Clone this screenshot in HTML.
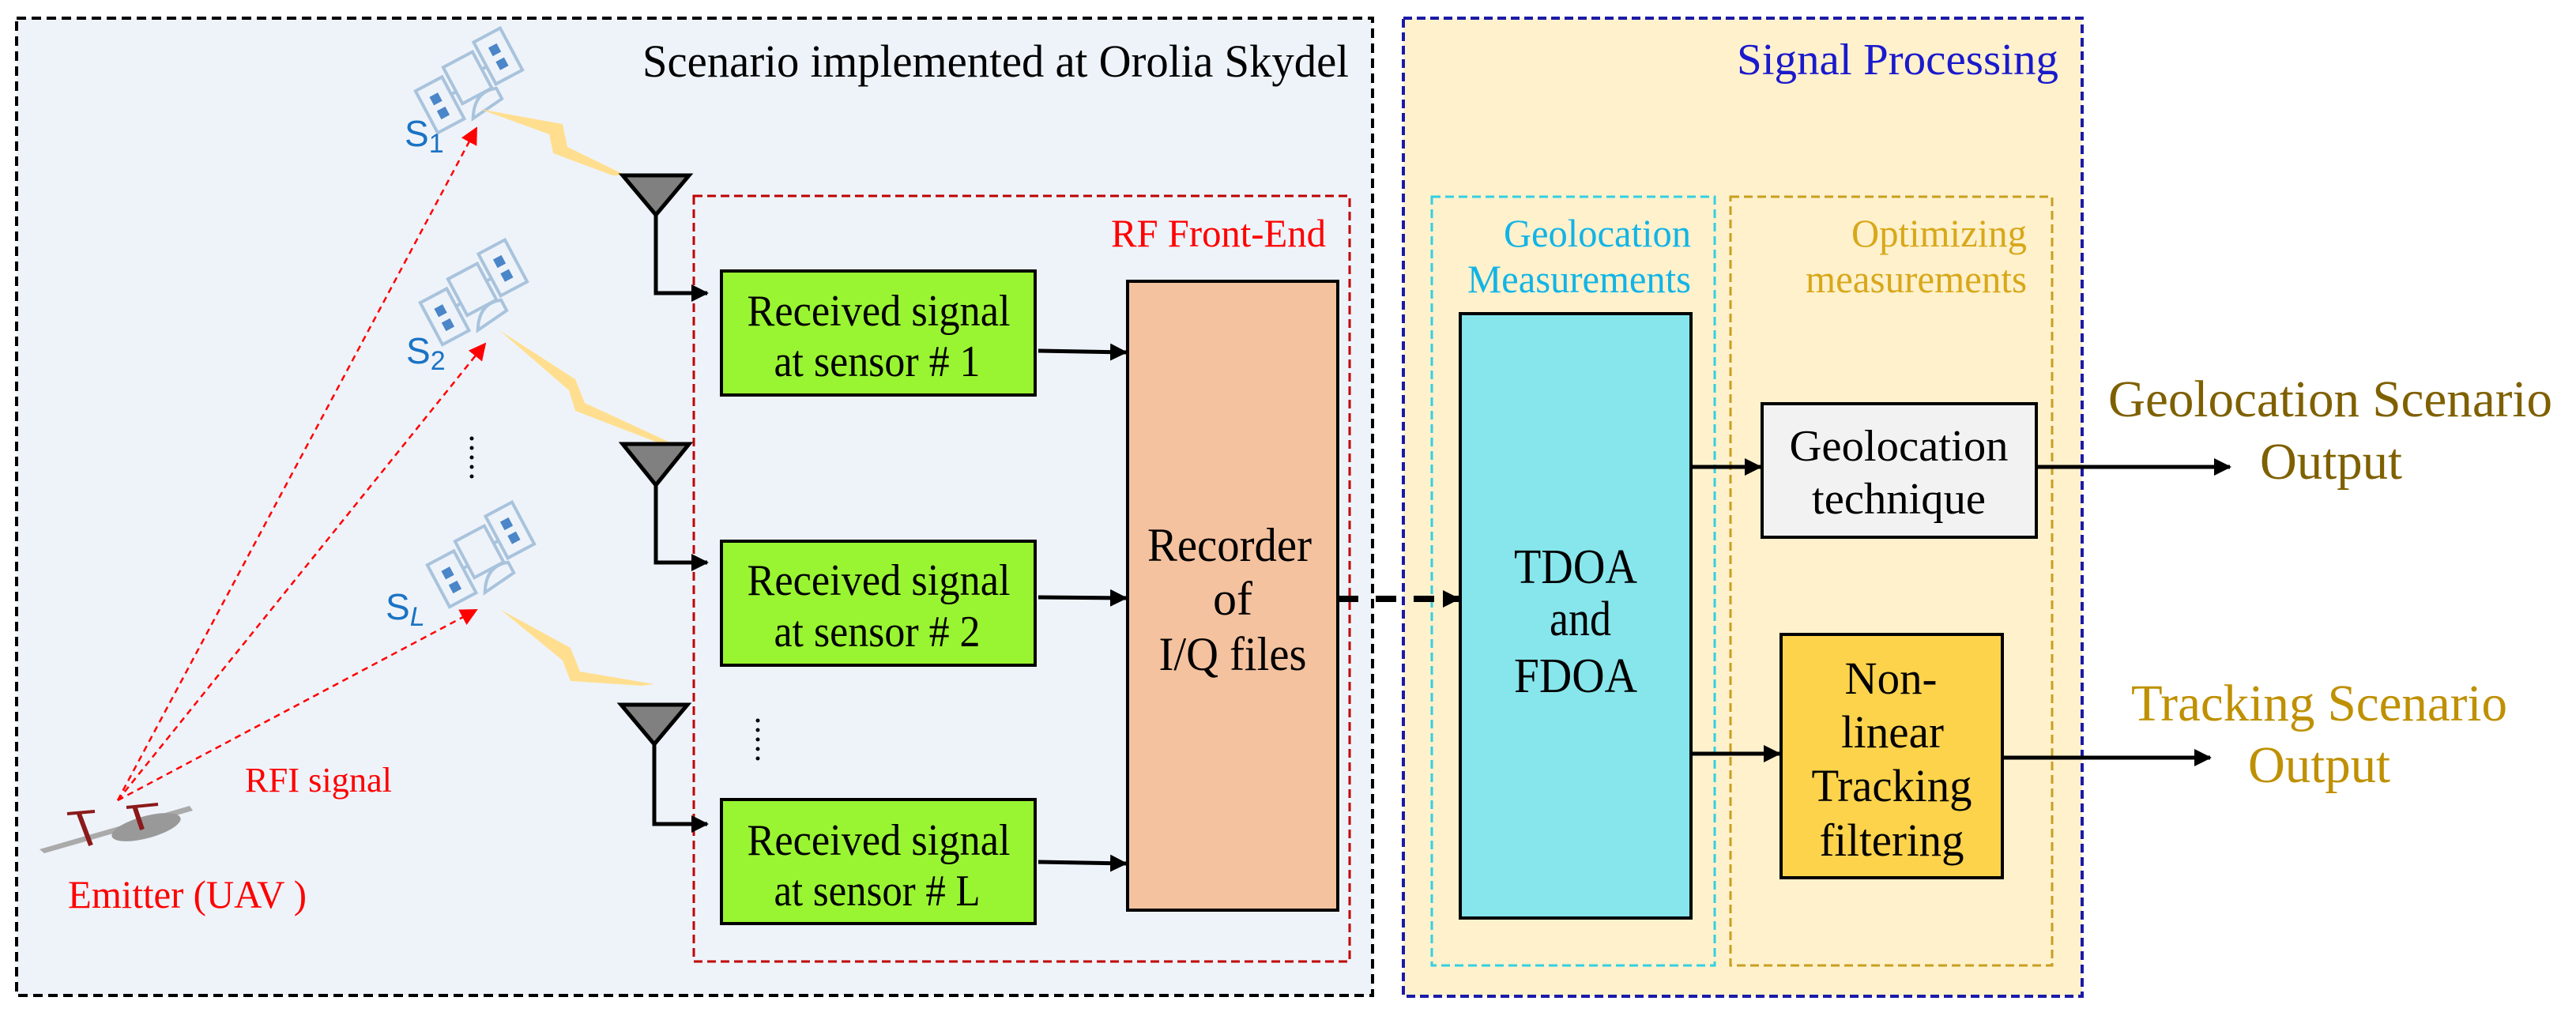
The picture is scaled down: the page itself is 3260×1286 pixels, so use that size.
<!DOCTYPE html>
<html><head><meta charset="utf-8"><style>
html,body{margin:0;padding:0;background:#fff;}
svg{display:block;}
</style></head><body>
<svg width="3260" height="1286" viewBox="0 0 3260 1286" xmlns="http://www.w3.org/2000/svg">
<defs>
<marker id="abk" markerWidth="22" markerHeight="22" refX="20" refY="11" orient="auto" markerUnits="userSpaceOnUse"><path d="M0,0 L22,11 L0,22z" fill="#000"/></marker>
<marker id="ar" markerWidth="22" markerHeight="22" refX="20" refY="11" orient="auto" markerUnits="userSpaceOnUse"><path d="M0,0 L22,11 L0,22z" fill="#f00"/></marker>
<g id="sat">
  <g fill="none" stroke="#a9c3dc" stroke-width="4">
    <rect x="-70" y="-20" width="38" height="60"/>
    <rect x="-25" y="-30" width="42" height="52"/>
    <rect x="24" y="-40" width="38" height="60"/>
    <line x1="-32" y1="5" x2="-25" y2="5"/><line x1="17" y1="-5" x2="24" y2="-5"/>
    <path d="M-22,45 Q-5,15 22,25 L22,40 Z"/>
  </g>
  <rect x="-58" y="-5" width="12" height="12" fill="#4a86c8"/><rect x="-58" y="15" width="12" height="12" fill="#4a86c8"/>
  <rect x="37" y="-25" width="12" height="12" fill="#4a86c8"/><rect x="37" y="-5" width="12" height="12" fill="#4a86c8"/>
</g>
</defs>
<rect width="3260" height="1286" fill="#fff"/>
<rect x="21" y="23" width="1716" height="1237" fill="#eef3fa" stroke="#000" stroke-width="4" stroke-dasharray="12,7"/>
<text font-family="Liberation Serif, serif" x="1707" y="97" font-size="58" text-anchor="end" textLength="894" lengthAdjust="spacingAndGlyphs">Scenario implemented at Orolia Skydel</text>
<rect x="878" y="248" width="830" height="969" fill="none" stroke="#c00000" stroke-width="3" stroke-dasharray="11,6"/>
<text font-family="Liberation Serif, serif" x="1678" y="312" font-size="50" fill="#f00" text-anchor="end" textLength="272" lengthAdjust="spacingAndGlyphs">RF Front-End</text>
<use href="#sat" transform="translate(597,100) rotate(-28)"/>
<use href="#sat" transform="translate(603,368) rotate(-28)"/>
<use href="#sat" transform="translate(612,700) rotate(-28)"/>
<text font-family="Liberation Sans, sans-serif" fill="#1a73c4" x="512" y="185" font-size="46">S<tspan font-size="34" dy="8">1</tspan></text>
<text font-family="Liberation Sans, sans-serif" fill="#1a73c4" x="514" y="460" font-size="46">S<tspan font-size="34" dy="8">2</tspan></text>
<text font-family="Liberation Sans, sans-serif" fill="#1a73c4" x="488" y="784" font-size="46">S<tspan font-size="34" dy="8" font-style="italic">L</tspan></text>
<g fill="#000"><circle cx="597" cy="555" r="2.5"/><circle cx="597" cy="567" r="2.5"/><circle cx="597" cy="579" r="2.5"/><circle cx="597" cy="591" r="2.5"/><circle cx="597" cy="603" r="2.5"/></g>
<g fill="#ffdf8f">
<polygon points="607,138 712,157 718,186 792,222 775,222 700,194 695,170"/>
<polygon points="632,418 728,480 740,510 848,560 832,560 728,520 720,494"/>
<polygon points="634,772 722,820 734,850 828,866 812,868 722,862 712,836"/>
</g>
<g stroke="#000" stroke-width="5" fill="#808080">
<path d="M788,222 L872,222 L830,272 Z"/>
<path d="M788,562 L872,562 L830,614 Z"/>
<path d="M786,892 L870,892 L828,942 Z"/>
</g>
<g stroke="#000" stroke-width="5" fill="none">
<polyline points="830,272 830,371 895,371" marker-end="url(#abk)"/>
<polyline points="830,614 830,712 895,712" marker-end="url(#abk)"/>
<polyline points="828,942 828,1043 895,1043" marker-end="url(#abk)"/>
</g>
<g stroke="#f00" stroke-width="2.5" stroke-dasharray="8,6" fill="none">
<line x1="149" y1="1013" x2="603" y2="162" marker-end="url(#ar)"/>
<line x1="149" y1="1013" x2="614" y2="435" marker-end="url(#ar)"/>
<line x1="149" y1="1013" x2="603" y2="772" marker-end="url(#ar)"/>
</g>
<g>
<path d="M50,1075 L240,1020 L244,1026 L56,1080 Z" fill="#aaa"/>
<ellipse cx="185" cy="1047" rx="45" ry="14" fill="#999" transform="rotate(-15 185 1047)"/>
<path d="M100,1030 L115,1070 M170,1020 L180,1050" stroke="#8b1a1a" stroke-width="6"/>
<path d="M85,1030 L120,1027 M160,1022 L200,1018" stroke="#8b1a1a" stroke-width="4"/>
</g>
<text font-family="Liberation Serif, serif" x="310" y="1002" font-size="44" fill="#f00" textLength="186" lengthAdjust="spacingAndGlyphs">RFI signal</text>
<text font-family="Liberation Serif, serif" x="86" y="1149" font-size="50" fill="#f00" textLength="302" lengthAdjust="spacingAndGlyphs">Emitter (UAV )</text>
<g fill="#99f531" stroke="#000" stroke-width="4">
<rect x="913" y="343" width="397" height="157"/>
<rect x="913" y="685" width="397" height="157"/>
<rect x="913" y="1012" width="397" height="157"/>
</g>
<text font-family="Liberation Serif, serif" font-size="56" text-anchor="middle" x="1112" y="412" textLength="333" lengthAdjust="spacingAndGlyphs">Received signal</text>
<text font-family="Liberation Serif, serif" font-size="56" text-anchor="middle" x="1110" y="476" textLength="261" lengthAdjust="spacingAndGlyphs">at sensor # 1</text>
<text font-family="Liberation Serif, serif" font-size="56" text-anchor="middle" x="1112" y="753" textLength="333" lengthAdjust="spacingAndGlyphs">Received signal</text>
<text font-family="Liberation Serif, serif" font-size="56" text-anchor="middle" x="1110" y="818" textLength="261" lengthAdjust="spacingAndGlyphs">at sensor # 2</text>
<text font-family="Liberation Serif, serif" font-size="56" text-anchor="middle" x="1112" y="1082" textLength="333" lengthAdjust="spacingAndGlyphs">Received signal</text>
<text font-family="Liberation Serif, serif" font-size="56" text-anchor="middle" x="1110" y="1146" textLength="261" lengthAdjust="spacingAndGlyphs">at sensor # L</text>
<g fill="#000"><circle cx="959" cy="912" r="2.5"/><circle cx="959" cy="924" r="2.5"/><circle cx="959" cy="936" r="2.5"/><circle cx="959" cy="948" r="2.5"/><circle cx="959" cy="960" r="2.5"/></g>
<g stroke="#000" stroke-width="5">
<line x1="1314" y1="444" x2="1425" y2="446" marker-end="url(#abk)"/>
<line x1="1314" y1="756" x2="1425" y2="757" marker-end="url(#abk)"/>
<line x1="1314" y1="1091" x2="1425" y2="1093" marker-end="url(#abk)"/>
</g>
<rect x="1427" y="356" width="266" height="796" fill="#f4c29f" stroke="#000" stroke-width="4"/>
<text font-family="Liberation Serif, serif" font-size="60" text-anchor="middle" x="1556" y="710" textLength="208" lengthAdjust="spacingAndGlyphs">Recorder</text>
<text font-family="Liberation Serif, serif" font-size="60" text-anchor="middle" x="1560" y="778">of</text>
<text font-family="Liberation Serif, serif" font-size="60" text-anchor="middle" x="1560" y="848" textLength="187" lengthAdjust="spacingAndGlyphs">I/Q files</text>
<rect x="1776" y="23" width="859" height="1238" fill="#fff1cc" stroke="#1a1aa8" stroke-width="4" stroke-dasharray="11,6"/>
<text font-family="Liberation Serif, serif" x="2605" y="94" font-size="56" fill="#1a1acc" text-anchor="end" textLength="407" lengthAdjust="spacingAndGlyphs">Signal Processing</text>
<rect x="1812" y="249" width="358" height="973" fill="none" stroke="#33d0e0" stroke-width="3" stroke-dasharray="11,6"/>
<rect x="2190" y="249" width="407" height="973" fill="none" stroke="#c8a020" stroke-width="3" stroke-dasharray="11,6"/>
<text font-family="Liberation Serif, serif" font-size="50" text-anchor="end" x="2140" y="312" fill="#12b4e6" textLength="237" lengthAdjust="spacingAndGlyphs">Geolocation</text>
<text font-family="Liberation Serif, serif" font-size="50" text-anchor="end" x="2140" y="370" fill="#12b4e6" textLength="283" lengthAdjust="spacingAndGlyphs">Measurements</text>
<text font-family="Liberation Serif, serif" font-size="50" text-anchor="end" x="2565" y="312" fill="#d8a81a" textLength="222" lengthAdjust="spacingAndGlyphs">Optimizing</text>
<text font-family="Liberation Serif, serif" font-size="50" text-anchor="end" x="2565" y="370" fill="#d8a81a" textLength="280" lengthAdjust="spacingAndGlyphs">measurements</text>
<line x1="1693" y1="758" x2="1846" y2="758" stroke="#000" stroke-width="8" stroke-dasharray="26,22" marker-end="url(#abk)"/>
<rect x="1848" y="397" width="292" height="765" fill="#86e6ec" stroke="#000" stroke-width="4"/>
<text font-family="Liberation Serif, serif" font-size="62" text-anchor="middle" x="1994" y="738" textLength="156" lengthAdjust="spacingAndGlyphs">TDOA</text>
<text font-family="Liberation Serif, serif" font-size="62" text-anchor="middle" x="2000" y="804" textLength="78" lengthAdjust="spacingAndGlyphs">and</text>
<text font-family="Liberation Serif, serif" font-size="62" text-anchor="middle" x="1994" y="876" textLength="156" lengthAdjust="spacingAndGlyphs">FDOA</text>
<rect x="2230" y="511" width="347" height="169" fill="#f2f2f2" stroke="#000" stroke-width="4"/>
<text font-family="Liberation Serif, serif" font-size="56" text-anchor="middle" x="2403" y="583" textLength="277" lengthAdjust="spacingAndGlyphs">Geolocation</text>
<text font-family="Liberation Serif, serif" font-size="56" text-anchor="middle" x="2403" y="650" textLength="220" lengthAdjust="spacingAndGlyphs">technique</text>
<rect x="2254" y="803" width="280" height="308" fill="#fdd34c" stroke="#000" stroke-width="4"/>
<text font-family="Liberation Serif, serif" font-size="58" text-anchor="middle" x="2393" y="878" textLength="117" lengthAdjust="spacingAndGlyphs">Non-</text>
<text font-family="Liberation Serif, serif" font-size="58" text-anchor="middle" x="2395" y="946" textLength="130" lengthAdjust="spacingAndGlyphs">linear</text>
<text font-family="Liberation Serif, serif" font-size="58" text-anchor="middle" x="2394" y="1014" textLength="203" lengthAdjust="spacingAndGlyphs">Tracking</text>
<text font-family="Liberation Serif, serif" font-size="58" text-anchor="middle" x="2394" y="1083" textLength="183" lengthAdjust="spacingAndGlyphs">filtering</text>
<g stroke="#000" stroke-width="5">
<line x1="2140" y1="591" x2="2228" y2="591" marker-end="url(#abk)"/>
<line x1="2140" y1="954" x2="2252" y2="954" marker-end="url(#abk)"/>
<line x1="2577" y1="591" x2="2822" y2="591" marker-end="url(#abk)"/>
<line x1="2534" y1="959" x2="2797" y2="959" marker-end="url(#abk)"/>
</g>
<text font-family="Liberation Serif, serif" font-size="66" text-anchor="middle" x="2949" y="527" fill="#7f6000" textLength="562" lengthAdjust="spacingAndGlyphs">Geolocation Scenario</text>
<text font-family="Liberation Serif, serif" font-size="66" text-anchor="middle" x="2950" y="606" fill="#7f6000" textLength="180" lengthAdjust="spacingAndGlyphs">Output</text>
<text font-family="Liberation Serif, serif" font-size="66" text-anchor="middle" x="2935" y="912" fill="#bf9000" textLength="476" lengthAdjust="spacingAndGlyphs">Tracking Scenario</text>
<text font-family="Liberation Serif, serif" font-size="66" text-anchor="middle" x="2935" y="990" fill="#bf9000" textLength="180" lengthAdjust="spacingAndGlyphs">Output</text>
</svg>
</body></html>
